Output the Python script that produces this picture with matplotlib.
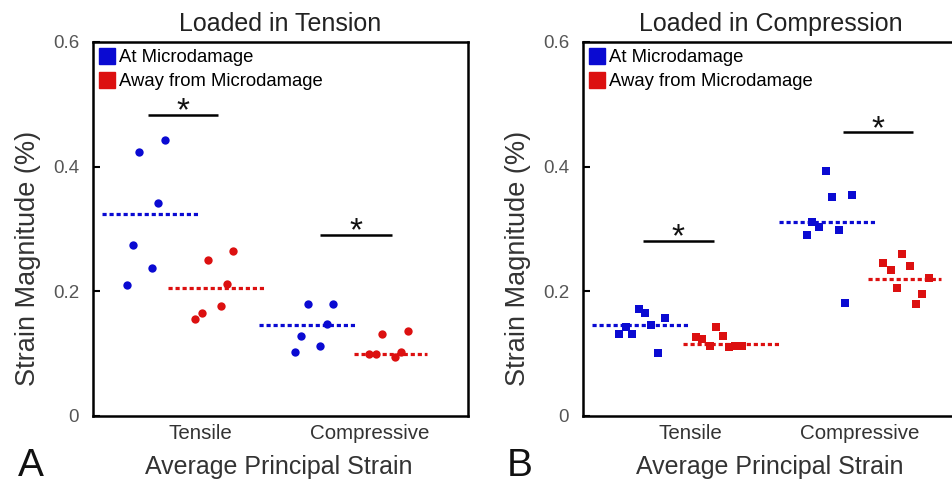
import matplotlib
matplotlib.use("Agg")
import matplotlib.pyplot as plt
from matplotlib.lines import Line2D

plt.rcParams['font.family'] = ['Liberation Sans', 'DejaVu Sans']

BLUE = '#0a0ad2'
RED = '#dc1010'

categories = ["Tensile", "Compressive"]

# Panel A - loaded in tension (circles)
a_blue_t_x = [0.643, 0.794, 0.755, 0.604, 0.716, 0.572]
a_blue_t_y = [0.424, 0.443, 0.342, 0.275, 0.238, 0.210]
a_red_t_x = [1.049, 1.196, 1.157, 1.122, 1.010, 0.972]
a_red_t_y = [0.251, 0.264, 0.212, 0.177, 0.165, 0.155]
a_blue_c_x = [1.635, 1.782, 1.745, 1.592, 1.706, 1.561]
a_blue_c_y = [0.179, 0.179, 0.147, 0.128, 0.112, 0.103]
a_red_c_x = [2.072, 2.222, 2.182, 2.145, 2.034, 1.996]
a_red_c_y = [0.132, 0.137, 0.103, 0.094, 0.099, 0.100]
a_means = [0.324, 0.205, 0.146, 0.100]
a_mean_x = [0.706, 1.097, 1.632, 2.121]
a_mean_hw = [0.284, 0.285, 0.285, 0.215]
a_sig_x = [(0.692, 1.108), (1.706, 2.128)]
a_sig_y = [0.483, 0.290]

# Panel B - loaded in compression (squares)
b_blue_t_x = [0.700, 0.737, 0.851, 0.771, 0.622, 0.584, 0.659, 0.812]
b_blue_t_y = [0.172, 0.166, 0.158, 0.146, 0.143, 0.131, 0.131, 0.101]
b_red_t_x = [1.151, 1.192, 1.035, 1.072, 1.118, 1.231, 1.266, 1.304]
b_red_t_y = [0.142, 0.128, 0.126, 0.123, 0.113, 0.111, 0.112, 0.113]
b_blue_c_x = [1.798, 1.837, 1.951, 1.719, 1.761, 1.875, 1.686, 1.914]
b_blue_c_y = [0.393, 0.352, 0.354, 0.312, 0.304, 0.298, 0.291, 0.181]
b_red_c_x = [2.249, 2.137, 2.292, 2.181, 2.404, 2.216, 2.367, 2.329]
b_red_c_y = [0.260, 0.245, 0.240, 0.234, 0.221, 0.206, 0.196, 0.179]
b_means = [0.146, 0.116, 0.312, 0.220]
b_mean_x = [0.706, 1.243, 1.809, 2.261]
b_mean_hw = [0.284, 0.282, 0.285, 0.214]
b_sig_x = [(0.722, 1.141), (1.898, 2.314)]
b_sig_y = [0.281, 0.455]


def draw_panel(ax, pts, means, mean_x, mean_hw, sig_x, sig_y, marker, ms, title):
    colors = [BLUE, RED, BLUE, RED]
    for (xs, ys), c in zip(pts, colors):
        ax.plot(xs, ys, linestyle='none', marker=marker, markersize=ms,
                color=c, markeredgewidth=0, zorder=3)
    for m, cx, hw, c in zip(means, mean_x, mean_hw, colors):
        ax.plot([cx - hw, cx + hw], [m, m], color=c, lw=2.3,
                linestyle=(0, (1.3, 0.9)), dash_capstyle='butt', zorder=2)
    for (x0, x1), y in zip(sig_x, sig_y):
        ax.plot([x0, x1], [y, y], color='black', lw=1.8, solid_capstyle='butt')
        ax.text((x0 + x1) / 2, y - 0.02, '*', ha='center', va='bottom',
                fontsize=24, color='#111111')

    ax.set_xlim(0.3706, 2.576)
    ax.set_ylim(0, 0.6)
    ax.set_xticks([1, 2])
    ax.set_xticklabels(categories, fontsize=14.8, color='#333333')
    ax.set_yticks([0, 0.2, 0.4, 0.6])
    ax.set_yticklabels(['0', '0.2', '0.4', '0.6'], fontsize=13.5, color='#555555')
    ax.tick_params(axis='x', length=0, pad=6)
    ax.tick_params(axis='y', direction='in', length=5, width=1.5, pad=10)
    for s in ax.spines.values():
        s.set_linewidth(1.8)
        s.set_color('black')

    handles = [Line2D([], [], marker='s', linestyle='none', color=BLUE, markersize=11),
               Line2D([], [], marker='s', linestyle='none', color=RED, markersize=11)]
    ax.legend(handles, ['At Microdamage', 'Away from Microdamage'], loc='upper left',
              frameon=False, fontsize=13.3, handlelength=0.7, handletextpad=0.3,
              borderaxespad=0.1, borderpad=0.3, labelspacing=0.36)

    ax.set_title(title, fontsize=18, color='#222222', pad=8)


fig = plt.figure(figsize=(9.53, 4.87), dpi=100)
ax_a = fig.add_axes([93 / 953, 71 / 487, 375 / 953, 374 / 487])
ax_b = fig.add_axes([583 / 953, 71 / 487, 375 / 953, 374 / 487])

draw_panel(ax_a,
           [(a_blue_t_x, a_blue_t_y), (a_red_t_x, a_red_t_y),
            (a_blue_c_x, a_blue_c_y), (a_red_c_x, a_red_c_y)],
           a_means, a_mean_x, a_mean_hw, a_sig_x, a_sig_y, 'o', 6.0,
           'Loaded in Tension')
draw_panel(ax_b,
           [(b_blue_t_x, b_blue_t_y), (b_red_t_x, b_red_t_y),
            (b_blue_c_x, b_blue_c_y), (b_red_c_x, b_red_c_y)],
           b_means, b_mean_x, b_mean_hw, b_sig_x, b_sig_y, 's', 5.5,
           'Loaded in Compression')

# axis labels and panel letters
for x_lab, x_let, let, cx in [(28, 31, 'A', 279), (518, 520, 'B', 770)]:
    fig.text(x_lab / 953, 1 - 258 / 487, 'Strain Magnitude (%)', rotation=90,
             ha='center', va='center', fontsize=19.5, color='#333333')
    fig.text(cx / 953, 1 - 467 / 487, 'Average Principal Strain', ha='center',
             va='center', fontsize=18, color='#333333')
    fig.text(x_let / 953, 1 - 466 / 487, let, ha='center', va='center',
             fontsize=28, color='#111111')

fig.savefig('out.png', dpi=100)
